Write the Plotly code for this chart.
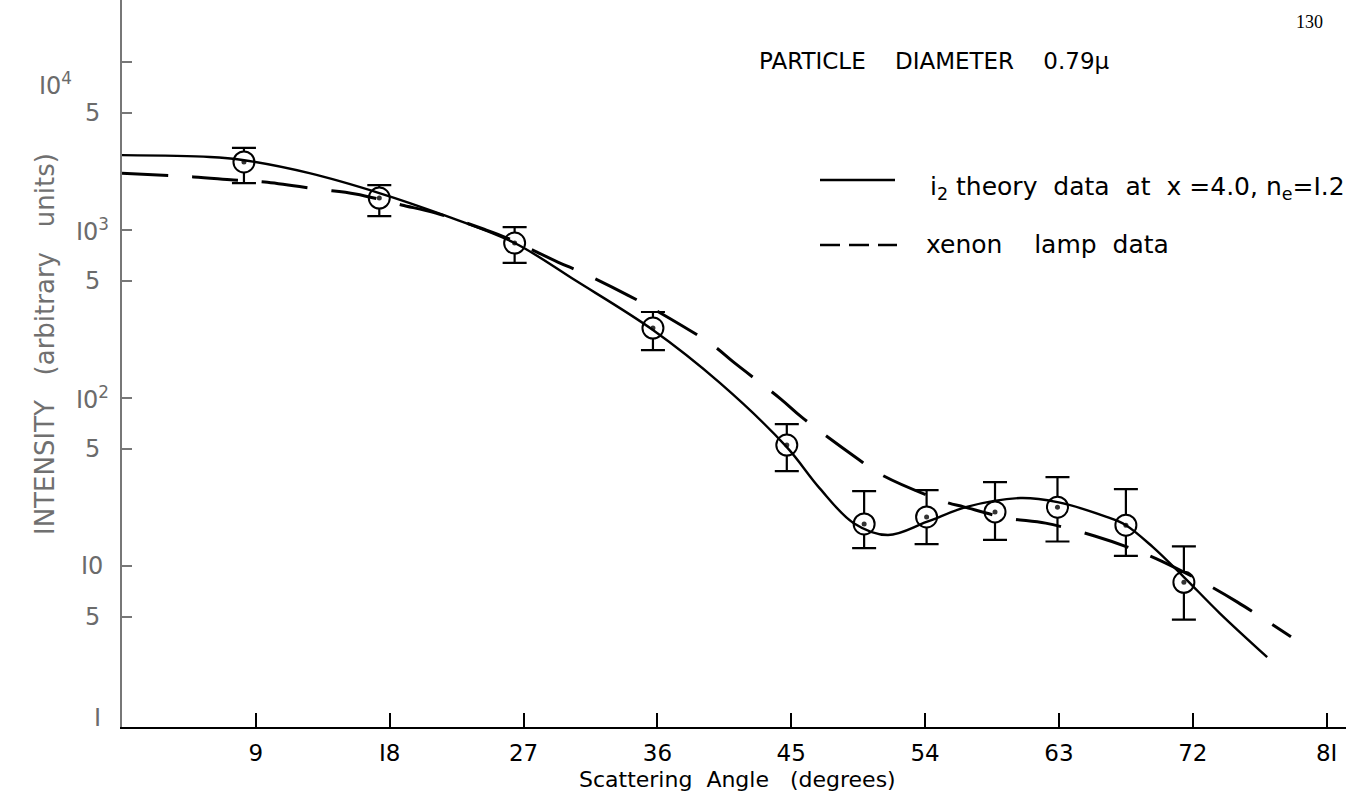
import math
import plotly.graph_objects as go

# ---- measured light-scattering data (PARTICLE DIAMETER 0.79 micron) ----
angles = [8.2, 17.3, 26.4, 35.7, 44.7, 49.9, 54.1, 58.7, 62.9, 67.5, 71.4]
intensity = [2540, 1550, 836, 261, 52.5, 17.8, 19.6, 21.0, 22.4, 17.5, 8.0]
err_high = [3080, 1850, 1040, 325, 70, 27.9, 28.3, 31.6, 33.8, 28.7, 13.1]
err_low = [1900, 1210, 637, 193, 36.7, 12.8, 13.5, 14.3, 14.0, 11.5, 4.8]

# ---- i2 theory curve, x = 4.0, n_e = 1.2 ----
theory_angle = [0, 5.9, 8.1, 12.6, 17.3, 21.6, 26.4, 30.5, 35.7, 40.2, 44.7,
                46.9, 49.2, 51.5, 54.1, 56.8, 60.4, 62.9, 66.2, 67.5, 69.3,
                71.4, 73.8, 77.0]
theory_val = [2790, 2720, 2610, 2180, 1660, 1230, 837, 500, 254, 123, 51,
              29.1, 18.0, 15.3, 18.3, 22.5, 25.4, 24.0, 19.6, 17.5, 13.0,
              8.6, 5.25, 2.87]

# ---- xenon lamp curve ----
xenon_angle = [0, 4.8, 7.5, 9.6, 13.2, 15.7, 18.8, 21.1, 24.3, 25.9, 29.3,
               31.0, 34.0, 36.2, 39.7, 41.1, 44.3, 45.7, 49.3, 51.1, 55.4,
               56.6, 59.5, 62.1, 65.4, 68.1, 70.0, 72.7, 75.0, 78.6]
xenon_val = [2180, 2070, 1985, 1930, 1750, 1640, 1410, 1260, 1014, 896, 645,
             555, 410, 321, 207, 164, 98.6, 77, 44.6, 34.8, 24.0,
             22.5, 19.3, 18.0, 15.1, 12.5, 10.6, 8.0, 6.1, 3.8]

x_ticks = [9, 18, 27, 36, 45, 54, 63, 72, 81]
x_tick_text = ["9", "I8", "27", "36", "45", "54", "63", "72", "8I"]
y_ticks = [10000, 5000, 1000, 500, 100, 50, 10, 5, 1]
y_tick_text = ["I0<sup>4</sup>", "5", "I0<sup>3</sup>", "5", "I0<sup>2</sup>",
               "5", "I0", "5", "I"]

FONT = "DejaVu Sans"
W, H = 1346, 806
L, B = 122, 79
PW, PH = W - L, H - B
X_RANGE = [0, 82.3]
Y_RANGE = [0.042, 4.369]


def paper_x(px):
    return (px - L) / PW


def paper_y(py):
    return (PH - py) / PH


def log_to_paper(v):
    return (math.log10(v) - Y_RANGE[0]) / (Y_RANGE[1] - Y_RANGE[0])


fig = go.Figure()

# data points with error bars (white-filled circles hide the stems)
fig.add_trace(go.Scatter(
    x=angles, y=intensity, mode="markers",
    marker=dict(symbol="circle", size=21, color="white",
                line=dict(color="black", width=2)),
    error_y=dict(type="data", symmetric=False,
                 array=[h - v for h, v in zip(err_high, intensity)],
                 arrayminus=[v - l for l, v in zip(err_low, intensity)],
                 color="black", thickness=2.2, width=12),
    showlegend=False, hoverinfo="skip"))
fig.add_trace(go.Scatter(
    x=angles, y=intensity, mode="markers",
    marker=dict(symbol="circle", size=5, color="#333"),
    showlegend=False, hoverinfo="skip"))

fig.add_trace(go.Scatter(
    x=theory_angle, y=theory_val, mode="lines",
    line=dict(color="black", width=2.4, shape="spline", smoothing=1.0),
    showlegend=False, hoverinfo="skip"))
fig.add_trace(go.Scatter(
    x=xenon_angle, y=xenon_val, mode="lines",
    line=dict(color="black", width=3, shape="spline", smoothing=1.0,
              dash="46px,24px"),
    showlegend=False, hoverinfo="skip"))

annotations = []

# y tick labels (hand-lettered: decade labels carry a superscript)
y_label_x = {10000: 55, 1: 97}
y_label_shift = {10000: -22, 1: 16}
for v, t in zip(y_ticks, y_tick_text):
    annotations.append(dict(
        xref="paper", yref="paper", x=paper_x(y_label_x.get(v, 92)),
        y=log_to_paper(v), yshift=y_label_shift.get(v, 0),
        text=t, showarrow=False, xanchor="center", yanchor="middle",
        font=dict(family=FONT, size=24, color="#6b6b6b")))

# axis titles
annotations.append(dict(
    xref="paper", yref="paper", x=paper_x(28), y=paper_y(344),
    text="INTENSITY   (arbitrary   units)", textangle=-90, showarrow=False,
    font=dict(family=FONT, size=26, color="#707070")))
annotations.append(dict(
    xref="paper", yref="paper", x=paper_x(737), y=paper_y(794),
    text="Scattering  Angle   (degrees)", showarrow=False,
    font=dict(family=FONT, size=22, color="black")))

# heading and legend text
annotations.append(dict(
    xref="paper", yref="paper", x=paper_x(757), y=paper_y(46),
    xanchor="left", text="PARTICLE    DIAMETER    0.79\u03bc", showarrow=False,
    font=dict(family=FONT, size=23, color="black")))
annotations.append(dict(
    xref="paper", yref="paper", x=paper_x(928), y=paper_y(170),
    xanchor="left",
    text="i<sub>2</sub> theory  data  at  x =4.0, n<sub>e</sub>=I.2",
    showarrow=False, font=dict(family=FONT, size=25, color="black")))
annotations.append(dict(
    xref="paper", yref="paper", x=paper_x(924), y=paper_y(244),
    xanchor="left", text="xenon    lamp  data", showarrow=False,
    font=dict(family=FONT, size=25, color="black")))
annotations.append(dict(
    xref="paper", yref="paper", x=paper_x(1325), y=paper_y(10),
    text="130", showarrow=False,
    font=dict(family="Liberation Serif", size=18, color="black")))

shapes = [
    dict(type="line", xref="paper", yref="paper",
         x0=paper_x(820), x1=paper_x(895), y0=paper_y(180), y1=paper_y(180),
         line=dict(color="black", width=2.6)),
    dict(type="line", xref="paper", yref="paper",
         x0=paper_x(820), x1=paper_x(897), y0=paper_y(245), y1=paper_y(245),
         line=dict(color="black", width=2.6, dash="20px,9px")),
]

fig.update_layout(
    width=W, height=H,
    margin=dict(l=L, r=0, t=0, b=B),
    paper_bgcolor="white", plot_bgcolor="white",
    showlegend=False,
    annotations=annotations, shapes=shapes,
    xaxis=dict(range=X_RANGE, showgrid=False, zeroline=False,
               showline=True, linecolor="black", linewidth=2.4,
               ticks="inside", ticklen=14, tickwidth=2, tickcolor="black",
               tickvals=x_ticks, ticktext=x_tick_text, ticklabelstandoff=4,
               tickfont=dict(family=FONT, size=23, color="black")),
    yaxis=dict(type="log", range=Y_RANGE, showgrid=False, zeroline=False,
               showline=True, linecolor="#777", linewidth=2,
               ticks="inside", ticklen=10, tickwidth=2, tickcolor="#777",
               tickvals=[v for v in y_ticks if v > 1], showticklabels=False),
)

fig.write_html("out.html")
